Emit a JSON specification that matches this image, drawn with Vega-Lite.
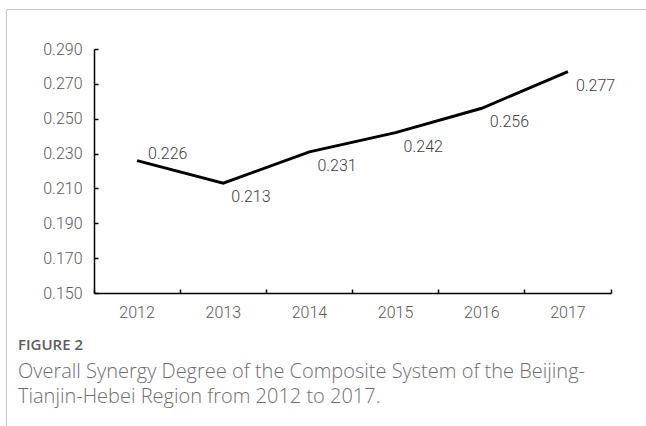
{
  "$schema": "https://vega.github.io/schema/vega-lite/v6.json",
  "autosize": {"type": "fit", "contains": "padding"},
  "width": 646,
  "height": 426,
  "padding": {"left": 6, "top": 9, "right": -2, "bottom": -2},
  "background": "white",
  "config": {
    "view": {"stroke": "#c6c6c6", "strokeWidth": 1}
  },
  "title": {
    "text": "FIGURE 2",
    "subtitle": ["Overall Synergy Degree of the Composite System of the Beijing-", "Tianjin-Hebei Region from 2012 to 2017."],
    "orient": "bottom",
    "anchor": "start",
    "frame": "group",
    "offset": -90,
    "dx": 12,
    "baseline": "top",
    "font": "Open Sans",
    "fontSize": 15,
    "fontWeight": 600,
    "color": "#5c5c5c",
    "subtitleFont": "Open Sans",
    "subtitleFontSize": 20,
    "subtitleFontWeight": 300,
    "subtitleColor": "#6e6e6e",
    "subtitleLineHeight": 25,
    "subtitlePadding": 9
  },
  "data": {
    "values": [
      {"year": "2012", "value": 0.226},
      {"year": "2013", "value": 0.213},
      {"year": "2014", "value": 0.231},
      {"year": "2015", "value": 0.242},
      {"year": "2016", "value": 0.256},
      {"year": "2017", "value": 0.277}
    ]
  },
  "encoding": {
    "y": {
      "field": "value",
      "type": "quantitative",
      "scale": {"domain": [0.15, 0.29], "range": [284, 40], "zero": false, "nice": false},
      "axis": {
        "title": null,
        "orient": "left",
        "offset": -88,
        "values": [0.15, 0.17, 0.19, 0.21, 0.23, 0.25, 0.27, 0.29],
        "format": ".3f",
        "grid": false,
        "domainColor": "#000000",
        "domainWidth": 1.5,
        "tickColor": "#000000",
        "tickWidth": 1.5,
        "tickSize": -4,
        "labelPadding": 16,
        "labelFontSize": 16,
        "labelFontWeight": 300,
        "labelColor": "#595959",
        "labelFont": "Roboto"
      }
    }
  },
  "resolve": {"axis": {"x": "independent"}},
  "layer": [
    {
      "mark": {"type": "line", "color": "#000000", "strokeWidth": 2.9, "clip": false},
      "encoding": {
        "x": {
          "field": "year",
          "type": "ordinal",
          "scale": {"type": "band", "range": [88, 605], "paddingInner": 0, "paddingOuter": 0},
          "axis": {
            "title": null,
            "orient": "bottom",
            "offset": -135,
            "bandPosition": 0,
            "labelAngle": 0,
            "domainColor": "#000000",
            "domainWidth": 1.5,
            "tickColor": "#000000",
            "tickWidth": 1.5,
            "tickSize": -4,
            "labelPadding": 15,
            "labelFontSize": 16,
            "labelFontWeight": 300,
            "labelColor": "#595959",
            "labelFont": "Roboto"
          }
        }
      }
    },
    {
      "transform": [{"filter": "datum.year != '2012'"}],
      "mark": {"type": "text", "align": "left", "baseline": "middle", "dx": 8, "dy": 14, "fontSize": 16, "fontWeight": 300, "color": "#404040", "font": "Roboto"},
      "encoding": {
        "x": {"field": "year", "type": "ordinal", "axis": null},
        "text": {"field": "value", "type": "quantitative", "format": ".3f"}
      }
    },
    {
      "transform": [{"filter": "datum.year == '2012'"}],
      "mark": {"type": "text", "align": "left", "baseline": "middle", "dx": 11, "dy": -7, "fontSize": 16, "fontWeight": 300, "color": "#404040", "font": "Roboto"},
      "encoding": {
        "x": {
          "field": "year",
          "type": "ordinal",
          "axis": {
            "title": null,
            "orient": "bottom",
            "offset": -135,
            "bandPosition": 1,
            "values": ["2017"],
            "labels": false,
            "domain": false,
            "tickColor": "#000000",
            "tickWidth": 1.5,
            "tickSize": -4
          }
        },
        "text": {"field": "value", "type": "quantitative", "format": ".3f"}
      }
    }
  ]
}
